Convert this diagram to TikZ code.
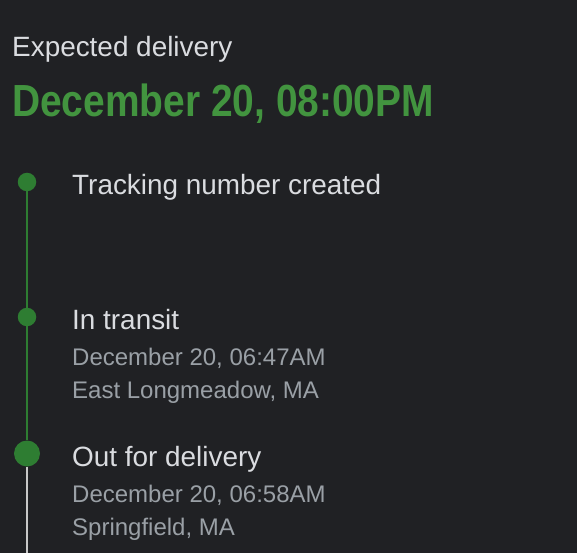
\documentclass[tikz,border=0pt]{standalone}
\usepackage{fontspec}
\setmainfont{Liberation Sans}
\definecolor{bg}{HTML}{202124}
\definecolor{prim}{HTML}{DADCE0}
\definecolor{sec}{HTML}{9AA0A6}
\definecolor{head}{HTML}{42943F}
\definecolor{dotg}{HTML}{2E7D32}
\definecolor{lineg}{HTML}{2E7D32}
\definecolor{lineq}{HTML}{C8C8C8}
\tikzset{
  primtext/.style={anchor=base west, inner sep=0pt, text=prim, font=\fontsize{27.9}{31}\selectfont},
  sectext/.style={anchor=base west, inner sep=0pt, text=sec, font=\fontsize{24}{28}\selectfont},
  dotsmall/.style={circle, fill=dotg, inner sep=0pt, minimum size=18.5pt},
  dotbig/.style={circle, fill=dotg, inner sep=0pt, minimum size=26pt},
}
\begin{document}
\begin{tikzpicture}[x=1pt,y=-1pt]
\fill[bg] (0,0) rectangle (577,553);
\useasboundingbox (0,0) rectangle (577,553);
\node[primtext] (exp) at (12,56.5) {Expected delivery};
\node[anchor=base west, inner sep=0pt, text=head, font=\bfseries\fontsize{45}{50}\selectfont, xscale=0.865] (date) at (12,117) {December 20, 08:00PM};
\coordinate (bot) at (27,553);
\node[dotsmall] (d1) at (27,182) {};
\node[dotsmall] (d2) at (27,317) {};
\node[dotbig] (d3) at (27,453.5) {};
\draw[lineg, line width=2pt] (d1) -- (d2);
\draw[lineg, line width=2pt] (d2) -- (d3);
\draw[lineq, line width=2pt] (d3) -- (bot);
\node[primtext] (t1) at (72,194) {Tracking number created};
\node[primtext] (t2) at (72,329) {In transit};
\node[sectext] (t2a) at (72,365) {December 20, 06:47AM};
\node[sectext] (t2b) at (72,398) {East Longmeadow, MA};
\node[primtext] (t3) at (72,466) {Out for delivery};
\node[sectext] (t3a) at (72,502) {December 20, 06:58AM};
\node[sectext] (t3b) at (72,535) {Springfield, MA};
\end{tikzpicture}
\end{document}
